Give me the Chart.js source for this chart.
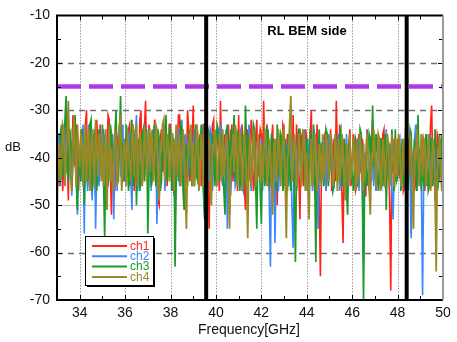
<!DOCTYPE html>
<html>
<head>
<meta charset="utf-8">
<script src="https://cdn.jsdelivr.net/npm/chart.js@4.4.1/dist/chart.umd.min.js"></script>
<style>
html,body{margin:0;padding:0;background:#fff;}
#wrap{width:457px;height:342px;}
</style>
</head>
<body>
<div id="wrap"><canvas id="c" width="457" height="342"></canvas></div>
<script>
// ---- data (dB) ----
// main samples at 33.0, 33.1, ... 50.0 GHz ; mid samples at 33.05, 33.15, ... 49.95 GHz
const freqStart = 33.0;
const freqStep = 0.05;
const seriesNames = ['ch1', 'ch2', 'ch3', 'ch4'];
const ch1 = [
 -38,-46,-35,-41,-33,-49,-37,-31,-42,-36,
 -40,-34,-45,-30,-39,-43,-35,-48,-37,-33,
 -42,-36,-40,-32,-52,-38,-34,-41,-31,-44,
 -37,-43,-33,-39,-47,-35,-41,-30,-38,-28,
 -40,-36,-44,-32,-38,-50,-34,-41,-35,-39,
 -33,-47,-54,-37,-31,-42,-36,-44,-34,-40,
 -29,-38,-43,-35,-40,-33,-46,-55,-37,-32,
 -41,-36,-28,-44,-35,-39,-52,-33,-40,-36,
 -31,-43,-37,-51,-34,-40,-36,-45,-32,-38,
 -35,-28,-42,-37,-44,-33,-39,-50,-36,-41,
 -34,-40,-45,-37,-31,-43,-38,-53,-35,-41,
 -36,-44,-30,-39,-46,-38,-65,-41,-35,-43,
 -40,-47,-36,-28,-42,-37,-58,-39,-45,-34,
 -41,-37,-46,-35,-43,-39,-48,-36,-44,-32,
 -40,-45,-37,-42,-34,-47,-39,-68,-43,-38,
 -36,-44,-39,-46,-33,-41,-56,-38,-45,-35,
 -42,-37,-47,-39,-44,-29,-40,-46,-36,-43,
 -39];
const ch1Mid = [
 -43,-37,-47,-36,-40,-34,-45,-39,-33,-47,
 -36,-42,-33,-46,-35,-39,-44,-32,-45,-40,
 -35,-45,-31,-43,-39,-47,-36,-34,-46,-38,
 -44,-34,-46,-33,-40,-44,-32,-45,-34,-41,
 -33,-46,-37,-43,-49,-36,-43,-34,-46,-33,
 -44,-38,-40,-31,-45,-35,-47,-30,-45,-37,
 -44,-33,-38,-46,-33,-49,-38,-41,-33,-45,
 -34,-47,-39,-37,-46,-33,-38,-45,-34,-47,
 -45,-33,-46,-38,-45,-32,-47,-36,-44,-34,
 -44,-38,-33,-47,-36,-45,-42,-35,-44,-33,
 -46,-35,-38,-44,-47,-33,-44,-36,-46,-34,
 -45,-35,-43,-47,-33,-49,-40,-36,-47,-37,
 -34,-41,-45,-39,-33,-48,-36,-44,-37,-46,
 -35,-47,-38,-43,-36,-48,-34,-45,-37,-40,
 -47,-36,-44,-35,-46,-37,-50,-39,-36,-45,
 -43,-38,-47,-34,-45,-36,-43,-47,-34,-44,
 -35,-45,-38,-46,-33,-42,-49,-35,-44,-38];
const ch2 = [
 -40,-35,-43,-37,-32,-45,-38,-41,-34,-52,
 -39,-36,-56,-42,-33,-44,-37,-55,-40,-35,
 -43,-38,-46,-34,-41,-53,-36,-39,-44,-33,
 -38,-42,-35,-51,-40,-31,-44,-37,-41,-36,
 -45,-39,-34,-42,-54,-36,-40,-33,-43,-38,
 -41,-35,-44,-39,-46,-32,-40,-37,-43,-35,
 -39,-44,-36,-41,-34,-52,-38,-42,-35,-40,
 -37,-43,-33,-46,-39,-55,-36,-42,-38,-45,
 -40,-34,-47,-38,-43,-36,-41,-35,-44,-39,
 -36,-42,-38,-34,-63,-45,-58,-37,-43,-40,
 -35,-41,-46,-38,-59,-36,-44,-39,-42,-34,
 -40,-45,-37,-43,-36,-55,-39,-44,-41,-38,
 -43,-37,-46,-40,-35,-44,-38,-47,-41,-36,
 -44,-39,-42,-47,-37,-62,-41,-36,-45,-40,
 -38,-43,-36,-46,-40,-34,-44,-39,-53,-37,
 -42,-36,-45,-39,-43,-37,-57,-40,-33,-44,
 -41,-69,-38,-46,-35,-43,-40,-37,-45,-39,
 -42];
const ch2Mid = [
 -35,-46,-33,-44,-39,-34,-48,-36,-44,-38,
 -45,-33,-38,-47,-36,-49,-34,-42,-46,-39,
 -34,-47,-37,-43,-35,-40,-47,-33,-38,-45,
 -46,-36,-44,-38,-35,-47,-36,-46,-33,-44,
 -34,-47,-39,-36,-41,-45,-34,-47,-36,-44,
 -35,-48,-37,-34,-38,-46,-35,-44,-37,-46,
 -34,-38,-46,-35,-47,-36,-45,-34,-47,-37,
 -46,-36,-44,-38,-34,-41,-48,-35,-46,-37,
 -35,-46,-37,-44,-33,-47,-38,-46,-36,-45,
 -47,-35,-45,-49,-40,-36,-44,-47,-36,-46,
 -44,-37,-34,-51,-40,-47,-35,-46,-37,-47,
 -36,-39,-47,-35,-44,-38,-45,-36,-47,-35,
 -38,-47,-36,-44,-47,-37,-45,-35,-46,-44,
 -37,-47,-36,-40,-46,-39,-35,-47,-38,-46,
 -47,-36,-45,-38,-46,-39,-37,-47,-43,-45,
 -37,-46,-38,-47,-36,-44,-40,-36,-47,-38,
 -47,-45,-35,-40,-46,-38,-46,-47,-36,-46];
const ch3 = [
 -36,-42,-33,-39,-27,-44,-35,-40,-31,-51,
 -38,-34,-50,-37,-41,-32,-44,-36,-43,-39,
 -33,-57,-38,-42,-35,-40,-30,-45,-27,-37,
 -41,-35,-44,-32,-39,-50,-36,-42,-34,-40,
 -56,-37,-43,-33,-40,-36,-45,-38,-31,-42,
 -35,-44,-63,-37,-41,-34,-51,-39,-36,-43,
 -38,-33,-45,-40,-36,-53,-41,-35,-44,-37,
 -40,-34,-42,-37,-52,-33,-39,-44,-31,-41,
 -36,-43,-38,-29,-45,-37,-41,-34,-55,-39,
 -54,-37,-43,-35,-40,-46,-38,-33,-42,-36,
 -44,-39,-35,-47,-37,-62,-41,-34,-43,-38,
 -36,-42,-39,-33,-62,-40,-45,-37,-41,-35,
 -43,-38,-46,-36,-41,-34,-44,-39,-52,-37,
 -40,-45,-37,-42,-35,-70,-39,-44,-36,-29,
 -42,-38,-45,-36,-41,-51,-37,-43,-39,-34,
 -44,-40,-36,-46,-38,-42,-35,-45,-39,-31,
 -41,-37,-44,-39,-46,-36,-42,-38,-45,-40,
 -37];
const ch3Mid = [
 -45,-35,-44,-32,-43,-36,-47,-34,-45,-38,
 -45,-43,-36,-45,-33,-47,-35,-47,-34,-44,
 -45,-39,-46,-33,-46,-35,-45,-36,-42,-45,
 -33,-47,-36,-46,-34,-39,-47,-35,-45,-34,
 -44,-46,-35,-46,-34,-47,-35,-44,-45,-34,
 -47,-36,-44,-45,-33,-47,-37,-46,-34,-46,
 -46,-44,-36,-33,-47,-38,-34,-45,-35,-46,
 -33,-45,-36,-47,-35,-45,-34,-36,-45,-35,
 -47,-35,-46,-37,-35,-46,-33,-46,-38,-47,
 -40,-46,-34,-46,-35,-36,-47,-44,-35,-47,
 -36,-47,-44,-38,-46,-43,-34,-46,-35,-47,
 -47,-34,-46,-44,-40,-34,-37,-46,-34,-46,
 -35,-47,-36,-45,-35,-46,-36,-47,-38,-45,
 -47,-36,-46,-34,-47,-44,-46,-35,-45,-41,
 -35,-47,-36,-46,-35,-39,-46,-34,-47,-45,
 -36,-47,-45,-37,-47,-34,-46,-36,-47,-42,
 -47,-46,-35,-47,-36,-46,-34,-47,-36,-35];
const ch4 = [
 -53,-37,-41,-34,-39,-28,-43,-36,-40,-33,
 -42,-36,-39,-45,-34,-38,-41,-32,-44,-37,
 -35,-40,-51,-33,-38,-42,-36,-39,-31,-43,
 -38,-34,-41,-36,-44,-33,-40,-37,-42,-35,
 -39,-43,-36,-41,-34,-49,-38,-32,-40,-37,
 -42,-36,-39,-44,-35,-41,-37,-55,-39,-33,
 -37,-41,-35,-43,-38,-34,-40,-36,-50,-39,
 -36,-42,-38,-34,-41,-37,-55,-39,-43,-35,
 -40,-36,-43,-38,-57,-35,-41,-37,-44,-39,
 -37,-41,-35,-43,-39,-52,-36,-42,-38,-40,
 -34,-57,-39,-27,-42,-37,-44,-38,-41,-36,
 -39,-53,-36,-41,-38,-44,-40,-35,-43,-37,
 -41,-37,-44,-39,-36,-42,-38,-49,-40,-35,
 -43,-39,-36,-44,-40,-37,-42,-38,-52,-41,
 -38,-42,-36,-45,-39,-41,-37,-44,-40,-36,
 -42,-38,-44,-40,-37,-43,-39,-55,-41,-38,
 -40,-44,-37,-42,-39,-45,-38,-64,-41,-43,
 -39];
const ch4Mid = [
 -40,-45,-33,-46,-35,-38,-47,-32,-46,-38,
 -35,-46,-33,-38,-47,-34,-46,-38,-35,-45,
 -46,-34,-40,-45,-47,-34,-46,-33,-47,-36,
 -46,-38,-45,-33,-37,-46,-35,-46,-34,-45,
 -34,-35,-45,-33,-46,-37,-33,-45,-35,-45,
 -35,-47,-33,-38,-46,-34,-47,-40,-35,-46,
 -46,-33,-47,-35,-46,-44,-35,-47,-37,-34,
 -46,-35,-45,-44,-35,-46,-40,-35,-33,-46,
 -34,-47,-35,-45,-40,-46,-34,-46,-35,-45,
 -45,-34,-46,-36,-47,-38,-45,-34,-46,-35,
 -45,-40,-32,-45,-35,-46,-35,-46,-34,-47,
 -46,-40,-46,-35,-47,-37,-46,-44,-35,-45,
 -35,-46,-35,-47,-45,-35,-46,-37,-46,-44,
 -36,-47,-45,-35,-47,-45,-35,-47,-39,-34,
 -46,-35,-47,-36,-46,-35,-46,-35,-46,-44,
 -35,-46,-36,-46,-45,-35,-47,-38,-34,-46,
 -35,-36,-46,-35,-47,-36,-47,-42,-35,-47];
const xTickValues = [34, 36, 38, 40, 42, 44, 46, 48, 50];
const yTickValues = [-70, -60, -50, -40, -30, -20, -10];
const markerFreqs = [39.57, 48.4];   // thick black vertical markers (GHz)
const limitLevel = -25;              // purple dashed limit (dB)
const chartTitle = 'RL BEM side';
const xTitle = 'Frequency[GHz]';
const yTitle = 'dB';

// ---- styling ----
const colors = ['#ff2418', '#3b87ff', '#1c9a2c', '#9b8826'];
const widths = [1.6, 1.6, 1.7, 1.8];
const FONT = '"Liberation Sans", Arial, Helvetica, sans-serif';

function merge(main, mid) {
  const out = [];
  main.forEach((v, i) => { out.push(v); if (i < mid.length) out.push(mid[i]); });
  return out;
}
const allSeries = [merge(ch1, ch1Mid), merge(ch2, ch2Mid), merge(ch3, ch3Mid), merge(ch4, ch4Mid)];
const datasets = allSeries.map((vals, k) => ({
  label: seriesNames[k],
  data: vals.map((v, i) => ({ x: +(freqStart + i * freqStep).toFixed(2), y: v })),
  borderColor: colors[k],
  backgroundColor: colors[k],
  borderWidth: widths[k],
  pointRadius: 0,
  tension: 0,
  order: 4 - k
}));

const overlay = {
  id: 'overlay',
  beforeDatasetsDraw(chart) {
    const { ctx, chartArea: a, scales: { x, y } } = chart;
    ctx.save();
    ctx.strokeStyle = '#6a6a6a';
    ctx.lineWidth = 1;
    ctx.setLineDash([1, 2]);
    xTickValues.forEach(v => {
      if (v >= 50) return;
      const px = Math.round(x.getPixelForValue(v)) + 0.5;
      ctx.beginPath(); ctx.moveTo(px, a.top); ctx.lineTo(px, a.bottom); ctx.stroke();
    });
    yTickValues.forEach(v => {
      if (v <= -70 || v >= -10) return;
      const py = Math.round(y.getPixelForValue(v)) + 0.5;
      if (v === -40 || v === -50) {
        ctx.setLineDash([]); ctx.strokeStyle = '#c4c4c4'; ctx.lineWidth = 1;
      } else {
        ctx.setLineDash([6, 5]); ctx.strokeStyle = '#6f6f6f'; ctx.lineWidth = 1.6;
      }
      ctx.beginPath(); ctx.moveTo(a.left, py); ctx.lineTo(a.right, py); ctx.stroke();
    });
    ctx.restore();
  },
  afterDatasetsDraw(chart) {
    const { ctx, chartArea: a, scales: { x, y } } = chart;
    ctx.save();
    const ly = y.getPixelForValue(limitLevel);
    ctx.strokeStyle = '#b13be3';
    ctx.lineWidth = 4.5;
    ctx.setLineDash([24, 8]);
    ctx.beginPath(); ctx.moveTo(a.left, ly); ctx.lineTo(a.right, ly); ctx.stroke();
    ctx.setLineDash([]);
    ctx.strokeStyle = '#000';
    ctx.lineWidth = 4;
    markerFreqs.forEach(f => {
      const px = x.getPixelForValue(f);
      ctx.beginPath(); ctx.moveTo(px, a.top); ctx.lineTo(px, a.bottom); ctx.stroke();
    });
    ctx.lineWidth = 1;
    ctx.strokeStyle = '#000';
    for (let f = 34; f < 50; f++) {
      const px = Math.round(x.getPixelForValue(f)) + 0.5;
      const len = f % 2 === 0 ? 5 : 4;
      ctx.beginPath();
      ctx.moveTo(px, a.bottom); ctx.lineTo(px, a.bottom - len);
      ctx.moveTo(px, a.top); ctx.lineTo(px, a.top + len);
      ctx.stroke();
    }
    for (let d = -65; d < -10; d += 5) {
      const py = Math.round(y.getPixelForValue(d)) + 0.5;
      const len = d % 10 === 0 ? 5 : 4;
      ctx.beginPath();
      ctx.moveTo(a.left, py); ctx.lineTo(a.left + len, py);
      ctx.moveTo(a.right, py); ctx.lineTo(a.right - len, py);
      ctx.stroke();
    }
    ctx.lineWidth = 2;
    ctx.strokeStyle = '#000';
    ctx.beginPath();
    ctx.moveTo(a.right, a.top); ctx.lineTo(a.left, a.top);
    ctx.lineTo(a.left, a.bottom); ctx.lineTo(a.right, a.bottom);
    ctx.stroke();
    ctx.strokeStyle = '#9a9a9a';
    ctx.beginPath(); ctx.moveTo(a.right, a.top); ctx.lineTo(a.right, a.bottom); ctx.stroke();

    ctx.fillStyle = '#000';
    ctx.font = 'bold 13px ' + FONT;
    ctx.textAlign = 'center';
    ctx.textBaseline = 'middle';
    ctx.fillText(chartTitle, 307, 31);

    const bx = 85, by = 236, bw = 68, bh = 49;
    ctx.fillStyle = '#000';
    ctx.fillRect(bx + 2, by + 2, bw, bh);
    ctx.fillStyle = '#fff';
    ctx.fillRect(bx, by, bw, bh);
    ctx.strokeStyle = '#000';
    ctx.lineWidth = 1;
    ctx.strokeRect(bx + 0.5, by + 0.5, bw, bh);
    ctx.font = '12px ' + FONT;
    ctx.textAlign = 'left';
    chart.data.datasets.forEach((ds, i) => {
      const yy = by + 10 + i * 10.3;
      ctx.strokeStyle = ds.borderColor;
      ctx.lineWidth = 2;
      ctx.beginPath(); ctx.moveTo(bx + 7, yy); ctx.lineTo(bx + 42, yy); ctx.stroke();
      ctx.fillStyle = ds.borderColor;
      ctx.fillText(ds.label, bx + 45, yy + 0.5);
    });

    ctx.fillStyle = '#111';
    ctx.font = '13px ' + FONT;
    ctx.textAlign = 'center';
    ctx.fillText(yTitle, 13, 147);
    ctx.font = '14px ' + FONT;
    ctx.fillText(xTitle, 249, 330);
    ctx.restore();
  }
};

new Chart(document.getElementById('c'), {
  type: 'line',
  data: { datasets },
  options: {
    responsive: false,
    animation: false,
    devicePixelRatio: 1,
    layout: { padding: { left: 0, right: 14, top: 13, bottom: 0 } },
    plugins: { legend: { display: false }, tooltip: { enabled: false } },
    scales: {
      x: {
        type: 'linear', min: 33, max: 50,
        grid: { display: false, drawTicks: false },
        border: { display: false },
        afterBuildTicks: s => { s.ticks = xTickValues.map(v => ({ value: v })); },
        afterFit: s => { s.height = 42; },
        ticks: { color: '#111', font: { family: FONT, size: 14 }, padding: 5, maxRotation: 0, autoSkip: false }
      },
      y: {
        type: 'linear', min: -70, max: -10,
        grid: { display: false, drawTicks: false },
        border: { display: false },
        afterBuildTicks: s => { s.ticks = yTickValues.map(v => ({ value: v })); },
        afterFit: s => { s.width = 57; },
        ticks: { color: '#111', font: { family: FONT, size: 14 }, padding: 7 }
      }
    }
  },
  plugins: [overlay]
});
</script>
</body>
</html>
